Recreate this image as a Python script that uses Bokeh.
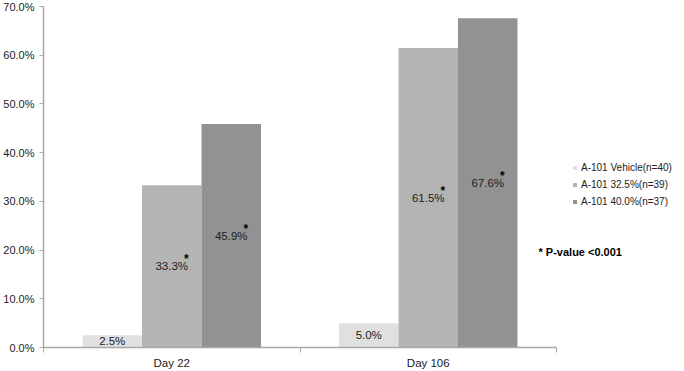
from bokeh.plotting import figure
from bokeh.models import (ColumnDataSource, Range1d, FixedTicker, PrintfTickFormatter,
                          Legend, LegendItem, Label)
from bokeh.transform import dodge
from bokeh.embed import file_html
from bokeh.resources import INLINE
from bokeh.core.properties import value

# ---- data ----
days = ["Day 22", "Day 106"]
series = ["A-101 Vehicle(n=40)", "A-101 32.5%(n=39)", "A-101 40.0%(n=37)"]
vehicle = [2.5, 5.0]
dose_325 = [33.3, 61.5]
dose_400 = [45.9, 67.6]
significant = [False, True, True]
y_ticks = [0, 10, 20, 30, 40, 50, 60, 70]
footnote = "* P-value <0.001"

# ---- styles ----
FONT = "Liberation Sans"
colors = ["#e0e0e0", "#b4b4b4", "#929292"]
bar_w = 0.232
offsets = [-bar_w, 0.0, bar_w]

W, H = 684, 371
LEFT = 43          # frame left (px)
AXIS_END = 556     # px where the category axis ends
n = len(days)
x_end = n * (W - LEFT) / (AXIS_END - LEFT)

centers = [i + 0.5 for i in range(n)]

p = figure(width=W, height=H, x_range=Range1d(0, x_end), y_range=Range1d(0, 70),
           output_backend="svg", toolbar_location=None,
           min_border_left=LEFT, min_border_right=0, min_border_top=6, min_border_bottom=22)
p.outline_line_color = None
p.xgrid.visible = False
p.ygrid.visible = False
p.background_fill_color = "white"
p.border_fill_color = "white"

items = []
for vals, name, col, off, sig in zip([vehicle, dose_325, dose_400], series, colors,
                                     offsets, significant):
    src = ColumnDataSource(dict(
        x=centers, top=vals, mid=[v / 2 for v in vals],
        txt=["%.1f%%" % v for v in vals]))
    r = p.vbar(x=dodge("x", off, range=p.x_range), top="top", width=bar_w, source=src,
               fill_color=col, line_color=None)
    items.append(LegendItem(label=name, renderers=[r]))
    p.text(x=dodge("x", off, range=p.x_range), y="mid", text="txt", source=src,
           text_align="center", text_baseline="middle",
           text_font=value(FONT), text_font_size="11.5px", text_color="#222222")
    if sig:
        p.text(x=dodge("x", off, range=p.x_range), y="mid", text=value("*"), source=src,
               x_offset=14.5, y_offset=-7, text_align="center", text_baseline="middle",
               text_font=value(FONT), text_font_size="12px", text_font_style="bold",
               text_color="#000000")

# y axis
ya = p.yaxis[0]
ya.ticker = FixedTicker(ticks=y_ticks, minor_ticks=[])
ya.formatter = PrintfTickFormatter(format="%.1f%%")
ya.axis_line_color = "#a8a8a8"
ya.axis_line_width = 1.5
ya.major_tick_line_color = "#a8a8a8"
ya.major_tick_out = 4
ya.major_tick_in = 0
ya.major_label_standoff = 5
ya.major_label_text_font = FONT
ya.major_label_text_font_size = "11px"
ya.major_label_text_color = "#222222"

# x axis
xa = p.xaxis[0]
xa.bounds = (0, n)
xa.ticker = FixedTicker(ticks=centers, minor_ticks=[float(i) for i in range(n + 1)])
xa.major_label_overrides = {c: d for c, d in zip(centers, days)}
xa.axis_line_color = "#a8a8a8"
xa.axis_line_width = 1.5
xa.major_tick_out = 0
xa.major_tick_in = 0
xa.minor_tick_out = 5
xa.minor_tick_in = 0
xa.minor_tick_line_color = "#a8a8a8"
xa.major_label_standoff = 4
xa.major_label_text_font = FONT
xa.major_label_text_font_size = "11.5px"
xa.major_label_text_color = "#222222"

legend = Legend(items=items, location=(529, 139), padding=0, margin=0, spacing=4,
                glyph_width=5, glyph_height=5, label_height=13, label_standoff=4,
                label_text_font=FONT, label_text_font_size="10px",
                label_text_color="#222222", border_line_color=None,
                background_fill_alpha=0)
p.add_layout(legend, "center")

p.add_layout(Label(x=495, y=96, x_units="screen", y_units="screen", text=footnote,
                   text_font=FONT, text_font_size="11px", text_font_style="bold",
                   text_baseline="middle", text_color="#000000"))

open("out.html", "w").write(file_html(p, INLINE))
